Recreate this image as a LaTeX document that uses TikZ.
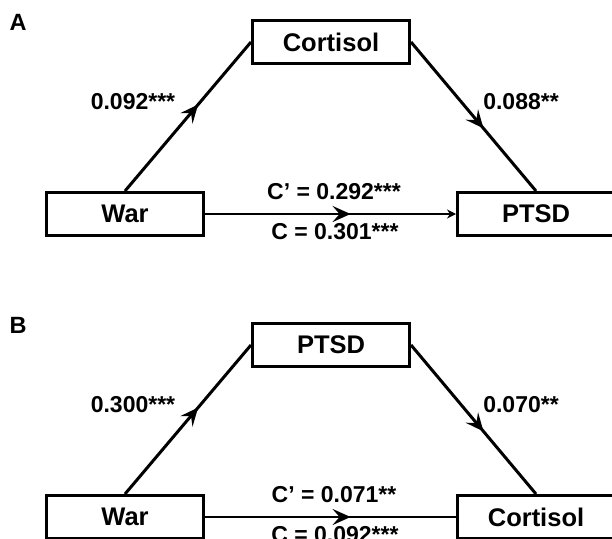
\documentclass[tikz,border=0pt]{standalone}
\usepackage{fontspec}
\setmainfont{Liberation Sans}
\usepackage{tikz}
\usetikzlibrary{arrows.meta,decorations.markings,positioning}
\tikzset{
  box/.style={draw, line width=3pt, minimum width=157pt, minimum 
  height=43pt, inner sep=0pt, text centered, 
  font=\fontsize{25.5}{30}\selectfont\bfseries},
coef/.style = {inner sep=1pt, font=\fontsize{23}{27}\selectfont\bfseries},
panel/.style = {inner sep=0pt, font=\fontsize{23.5}{28}\selectfont\bfseries},
link/.style={line width=3pt, postaction={decorate},
	decoration={markings, mark=at position 0.58 with 
	{\arrow{Stealth[length=18pt,width=16pt,inset=7pt]}}}},
direct/.style={link, line width=2.6pt}
}

\begin{document}
\begin{tikzpicture}[x=1pt,y=-1pt]
			\useasboundingbox (0,0) rectangle (612,538);
			\clip (0,0) rectangle (612,538);
			% panel A
			\node (pA) [panel] at (18,22) {A};
			\node (cort1) [box] at (331,42) {Cortisol};
			\node (war1) [box] at (125,214) {War};
			\node (ptsd1) [box] at (536,214) {PTSD};
			\node (a1) [coef] at (133,102) {0.092***};
			\node (b1) [coef] at (521,102) {0.088**};
			\node (cp1) [coef] at (334,192) {C’ = 0.292***};
			\node (c1) [coef] at (335,232) {C = 0.301***};
			\path (war1.north) edge [link] (cort1.west);
			\path (cort1.east) edge [link] (ptsd1.north);
			\path (war1) edge [direct,-{Stealth[length=9pt,width=9pt]}] (ptsd1);
			% panel B
			\node (pB) [panel] at (18,325) {B};
			\node (ptsd2) [box] at (331,345) {PTSD};
			\node (war2) [box] at (125,517) {War};
			\node (cort2) [box] at (536,517) {Cortisol};
			\node (a2) [coef] at (133,405) {0.300***};
			\node (b2) [coef] at (521,405) {0.070**};
			\node (cp2) [coef] at (334,495) {C’ = 0.071**};
			\node (c2) [coef] at (335,535) {C = 0.092***};
			\path (war2.north) edge [link] (ptsd2.west);
			\path (ptsd2.east) edge [link] (cort2.north);
			\path (war2) edge [direct] (cort2);
\end{tikzpicture}
\end{document}
